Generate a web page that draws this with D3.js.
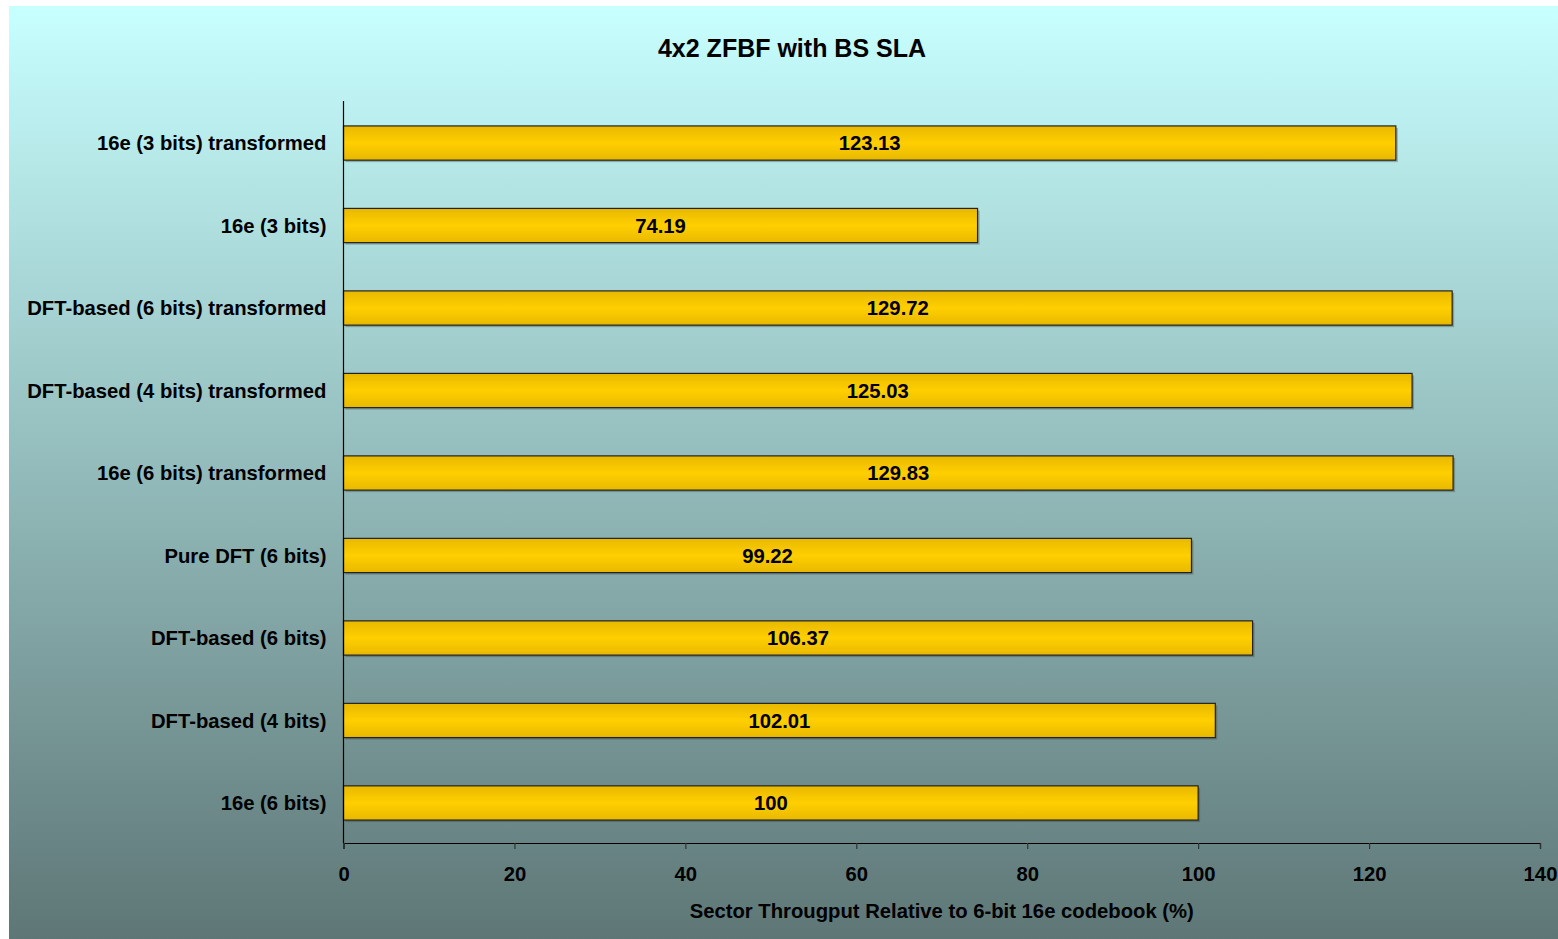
<!DOCTYPE html>
<html>
<head>
<meta charset="utf-8">
<script src="https://cdn.jsdelivr.net/npm/d3@7"></script>
<style>
  html, body { margin: 0; padding: 0; background: #ffffff; }
  svg { display: block; font-family: "Liberation Sans", Arial, sans-serif; font-weight: bold; }
</style>
</head>
<body>
<svg id="chart" width="1558" height="939"></svg>
<script>
// Codebook variants, listed top to bottom
const categories = [
  "16e (3 bits) transformed",
  "16e (3 bits)",
  "DFT-based (6 bits) transformed",
  "DFT-based (4 bits) transformed",
  "16e (6 bits) transformed",
  "Pure DFT (6 bits)",
  "DFT-based (6 bits)",
  "DFT-based (4 bits)",
  "16e (6 bits)"
];
// Sector throughput relative to the 6-bit 16e codebook (%)
const values = [123.13, 74.19, 129.72, 125.03, 129.83, 99.22, 106.37, 102.01, 100];
const xTicks = [0, 20, 40, 60, 80, 100, 120, 140];

const titleText = "4x2 ZFBF with BS SLA";
const xTitleText = "Sector Througput Relative to 6-bit 16e codebook (%)";

const svg = d3.select("#chart");
const W = 1558, H = 939;
const margin = { left: 343.5, right: 18, top: 101, bottom: 96 };
const FS = 20.25;

const defs = svg.append("defs");
const bg = defs.append("linearGradient").attr("id", "bgGrad")
  .attr("x1", 0).attr("y1", 0).attr("x2", 0).attr("y2", 1);
bg.append("stop").attr("offset", "0%").attr("stop-color", "#c8ffff");
bg.append("stop").attr("offset", "100%").attr("stop-color", "#5e7676");

const barGrad = defs.append("linearGradient").attr("id", "barGrad")
  .attr("x1", 0).attr("y1", 0).attr("x2", 0).attr("y2", 1);
barGrad.append("stop").attr("offset", "0%").attr("stop-color", "#e8b800");
barGrad.append("stop").attr("offset", "50%").attr("stop-color", "#ffcf00");
barGrad.append("stop").attr("offset", "100%").attr("stop-color", "#e8b800");

// chart area background
svg.append("rect")
  .attr("x", 9).attr("y", 6)
  .attr("width", W - 9).attr("height", H - 6)
  .attr("fill", "url(#bgGrad)");

const x = d3.scaleLinear().domain([0, 140]).range([margin.left, W - margin.right]);
const y = d3.scaleBand().domain(categories)
  .range([margin.top + 1, H - margin.bottom + 1])
  .paddingInner(0.585).paddingOuter(0.29);

// title
svg.append("text")
  .attr("x", 792).attr("y", 57)
  .attr("text-anchor", "middle")
  .attr("font-size", 25)
  .attr("fill", "#000")
  .text(titleText);

// bar shadows
svg.append("g").selectAll("rect")
  .data(values)
  .join("rect")
  .attr("x", x(0) + 2)
  .attr("y", (d, i) => y(categories[i]) + 2)
  .attr("width", d => x(d) - x(0))
  .attr("height", y.bandwidth())
  .attr("fill", "rgba(60,60,60,0.35)");

// bars
svg.append("g").selectAll("rect")
  .data(values)
  .join("rect")
  .attr("x", x(0))
  .attr("y", (d, i) => y(categories[i]))
  .attr("width", d => x(d) - x(0))
  .attr("height", y.bandwidth())
  .attr("fill", "url(#barGrad)")
  .attr("stroke", "#222")
  .attr("stroke-width", 1.2);

// value labels centred in each bar
svg.append("g").selectAll("text")
  .data(values)
  .join("text")
  .attr("x", d => (x(0) + x(d)) / 2)
  .attr("y", (d, i) => y(categories[i]) + y.bandwidth() / 2)
  .attr("dy", "0.35em")
  .attr("text-anchor", "middle")
  .attr("font-size", FS)
  .attr("fill", "#000")
  .text(d => d);

// category axis (line only, labels to the left)
const yAxis = svg.append("g")
  .attr("transform", `translate(${x(0)},0)`)
  .call(d3.axisLeft(y).tickSize(0).tickPadding(17));
yAxis.select(".domain").attr("stroke", "#000").attr("stroke-width", 1.2)
  .attr("d", `M0,${margin.top}V${H - margin.bottom}`);
yAxis.selectAll("text")
  .attr("dy", "0.35em")
  .attr("font-size", FS)
  .attr("font-family", "Liberation Sans, Arial, sans-serif")
  .attr("font-weight", "bold")
  .attr("fill", "#000");

// value axis
const xAxis = svg.append("g")
  .attr("transform", `translate(0,${H - margin.bottom})`)
  .call(d3.axisBottom(x).tickValues(xTicks).tickSize(6).tickPadding(18).tickSizeOuter(6));
xAxis.select(".domain").attr("stroke", "#000").attr("stroke-width", 1.2);
xAxis.selectAll(".tick line").attr("stroke", "#333").attr("stroke-width", 1.2);
xAxis.selectAll("text")
  .attr("font-size", FS)
  .attr("font-family", "Liberation Sans, Arial, sans-serif")
  .attr("font-weight", "bold")
  .attr("fill", "#000");

// value axis title
svg.append("text")
  .attr("x", (x(0) + x(140)) / 2).attr("y", 918)
  .attr("text-anchor", "middle")
  .attr("font-size", FS)
  .attr("fill", "#000")
  .text(xTitleText);
</script>
</body>
</html>
